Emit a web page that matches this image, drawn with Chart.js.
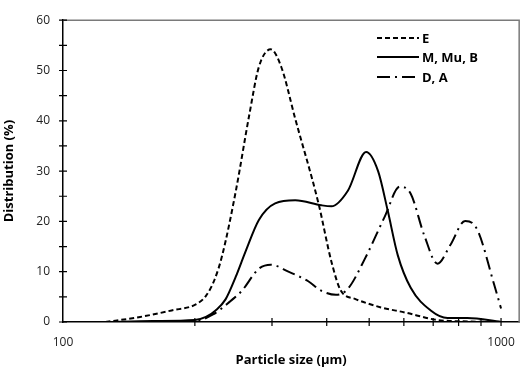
<!DOCTYPE html>
<html>
<head>
<meta charset="utf-8">
<script src="https://cdn.jsdelivr.net/npm/chart.js@4.4.1/dist/chart.umd.min.js"></script>
<style>
  html, body { margin: 0; padding: 0; background: #fff; }
  #wrap { width: 528px; height: 372px; }
</style>
</head>
<body>
<div id="wrap"><canvas id="chart"></canvas></div>
<script>
// series (x in µm, y in %)
const labels = ["E", "M, Mu, B", "D, A"];

const xE = [125, 150, 177, 201, 212, 222, 231, 248, 266, 280, 298, 315, 339, 383, 410, 431, 464, 532, 603, 716, 850, 975];
const yE = [0, 1, 2.3, 3.5, 5.2, 8.5, 13.3, 26, 41, 50.7, 54.2, 50.7, 40.4, 23.6, 12, 6.2, 4.6, 2.9, 1.9, 0.4, 0.1, 0];

const xM = [125, 160, 200, 212, 223, 235, 248, 261, 280, 305, 339, 389, 410, 447, 492, 524, 551, 581, 622, 691, 755, 838, 1000];
const yM = [0, 0.2, 0.4, 1, 2.3, 4.5, 9, 14, 20.3, 23.6, 24.2, 23.2, 23, 26.1, 33.8, 30, 22.2, 13.3, 6.8, 2.3, 0.8, 0.8, 0];

const xD = [125, 200, 220, 240, 256, 280, 298, 327, 363, 389, 420, 447, 489, 543, 587, 622, 668, 716, 766, 828, 882, 964, 1000];
const yD = [0, 0.2, 1.5, 4, 6.2, 10.6, 11.4, 10, 8.1, 6.2, 5.4, 6.6, 12.6, 21, 26.9, 25.5, 17.2, 11.6, 15.3, 20.1, 18.4, 7.5, 2.7];

const xTickLabels = [100, 1000];
const xMinorTicks = [200, 300, 400, 500, 600, 700, 800, 900, 1000];

const pts = (xs, ys) => xs.map((x, i) => ({ x: x, y: ys[i] }));

const font = "'Open Sans', 'DejaVu Sans', sans-serif";

// cross ticks, frame and legend drawn on top of chart area
const extras = {
  id: 'extras',
  afterDraw(c) {
    const ctx = c.ctx, a = c.chartArea;
    const xs = c.scales.x, ys = c.scales.y;
    ctx.save();
    // gray frame top/right
    ctx.strokeStyle = '#7a7a7a';
    ctx.lineWidth = 1.5;
    ctx.beginPath();
    ctx.moveTo(a.left, a.top); ctx.lineTo(a.right, a.top); ctx.lineTo(a.right, a.bottom);
    ctx.stroke();
    // ticks crossing the axes
    ctx.strokeStyle = '#000';
    ctx.lineWidth = 1.2;
    ctx.beginPath();
    for (let v = 0; v <= 60; v += 5) {
      const py = ys.getPixelForValue(v);
      ctx.moveTo(a.left - 4, py); ctx.lineTo(a.left + 4, py);
    }
    xMinorTicks.forEach(v => {
      const px = xs.getPixelForValue(v);
      ctx.moveTo(px, a.bottom - 4); ctx.lineTo(px, a.bottom + 4);
    });
    ctx.stroke();
    // legend
    const rows = [38, 57, 77];
    ctx.font = "bold 13px " + font;
    ctx.textBaseline = 'middle';
    ctx.fillStyle = '#000';
    c.data.datasets.forEach((ds, i) => {
      const y = rows[i];
      ctx.setLineDash(ds.borderDash || []);
      ctx.lineWidth = 2;
      ctx.beginPath();
      ctx.moveTo(377, y); ctx.lineTo(419, y);
      ctx.stroke();
      ctx.setLineDash([]);
      ctx.fillText(ds.label, 422, y + 1);
    });
    ctx.restore();
  }
};

new Chart(document.getElementById('chart'), {
  type: 'line',
  data: {
    datasets: [
      { label: labels[0], data: pts(xE, yE), borderColor: '#000', borderWidth: 2, borderDash: [5, 3] },
      { label: labels[1], data: pts(xM, yM), borderColor: '#000', borderWidth: 2 },
      { label: labels[2], data: pts(xD, yD), borderColor: '#000', borderWidth: 2, borderDash: [13, 5, 2, 5] }
    ]
  },
  options: {
    responsive: true,
    maintainAspectRatio: false,
    animation: false,
    layout: { padding: { top: 12, right: 6, left: 0, bottom: 0 } },
    elements: {
      point: { radius: 0 },
      line: { cubicInterpolationMode: 'monotone', fill: false }
    },
    plugins: { legend: { display: false }, tooltip: { enabled: false } },
    scales: {
      x: {
        type: 'logarithmic',
        min: 100,
        max: 1100,
        afterBuildTicks: s => { s.ticks = xTickLabels.map(v => ({ value: v })); },
        afterFit: s => { s.height = 50; },
        grid: { display: false, drawTicks: false },
        border: { color: '#000', width: 1.5 },
        ticks: {
          autoSkip: false, maxRotation: 0, padding: 13,
          color: '#222', font: { family: font, size: 12 },
          callback: v => String(v)
        },
        title: {
          display: true, text: 'Particle size (µm)', color: '#000',
          font: { family: font, size: 13, weight: 'bold' },
          padding: { top: 0, bottom: 4 }
        }
      },
      y: {
        min: 0,
        max: 60,
        afterFit: s => { s.width = 63; },
        grid: { display: false, drawTicks: false },
        border: { color: '#000', width: 1.5 },
        ticks: {
          stepSize: 10, padding: 13,
          color: '#222', font: { family: font, size: 12 }
        },
        title: {
          display: true, text: 'Distribution (%)', color: '#000',
          font: { family: font, size: 13, weight: 'bold' },
          padding: { top: 1, bottom: 0 }
        }
      }
    }
  },
  plugins: [extras]
});
</script>
</body>
</html>
